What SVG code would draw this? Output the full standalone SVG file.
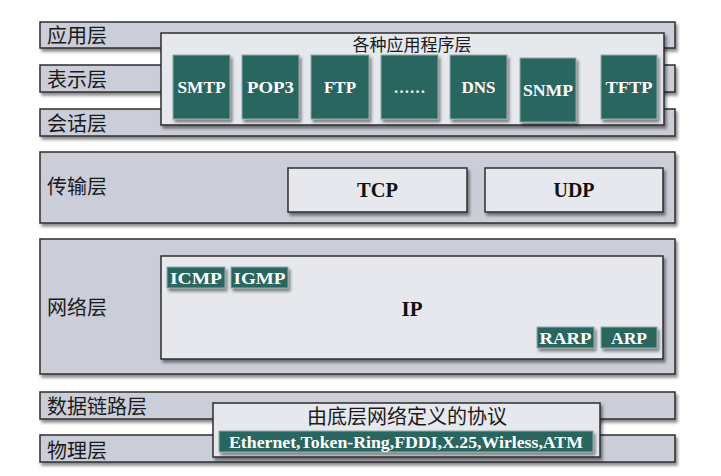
<svg xmlns="http://www.w3.org/2000/svg" width="721" height="476" viewBox="0 0 721 476">
<defs>
<filter id="sh" x="-10%" y="-10%" width="130%" height="140%">
<feDropShadow dx="2" dy="3" stdDeviation="1.5" flood-color="#000" flood-opacity="0.45"/>
</filter>
<style>
.bar{fill:#cbcdd8;stroke:#2e2e2e;stroke-width:1.5;filter:url(#sh)}
.inner{fill:#e6e8ee;stroke:#2e2e2e;stroke-width:1.5;filter:url(#sh)}
.g{fill:#2a6660;stroke:#8fa9a6;stroke-width:1;filter:url(#sh)}
.lbl{font-family:"Noto Sans CJK SC","Noto Sans",sans-serif;font-size:20px;fill:#1a1a1a}
.ttl{font-family:"Noto Sans CJK SC","Noto Sans",sans-serif;fill:#1a1a1a;text-anchor:middle}
.gt{font-family:"Liberation Serif",serif;font-weight:bold;fill:#ffffff;text-anchor:middle}
.bt{font-family:"Liberation Serif",serif;font-weight:bold;fill:#111;text-anchor:middle}
</style>
</defs>
<rect width="721" height="476" fill="#ffffff"/>

<g id="layer-app"><rect class="bar" x="40" y="22" width="635" height="26"/><text class="lbl" x="47" y="43">应用层</text></g>
<g id="layer-pres"><rect class="bar" x="40" y="65" width="635" height="27"/><text class="lbl" x="47" y="87">表示层</text></g>
<g id="layer-sess"><rect class="bar" x="40" y="109" width="635" height="27"/><text class="lbl" x="47" y="131">会话层</text></g>

<g id="app-box"><rect class="inner" x="161" y="33" width="503" height="92"/><text class="ttl" x="412" y="51" font-size="17">各种应用程序层</text></g>
<g id="smtp"><rect class="g" x="173" y="55" width="57" height="64"/><text class="gt" x="201.5" y="93" font-size="17" textLength="48" lengthAdjust="spacingAndGlyphs">SMTP</text></g>
<g id="pop3"><rect class="g" x="242" y="55" width="57" height="64"/><text class="gt" x="270.5" y="93" font-size="17" textLength="47" lengthAdjust="spacingAndGlyphs">POP3</text></g>
<g id="ftp"><rect class="g" x="311" y="55" width="58" height="64"/><text class="gt" x="340" y="93" font-size="17">FTP</text></g>
<g id="etc"><rect class="g" x="381" y="55" width="57" height="64"/><text class="gt" x="409.5" y="93" font-size="16">……</text></g>
<g id="dns"><rect class="g" x="450" y="55" width="57" height="64"/><text class="gt" x="478.5" y="93" font-size="17">DNS</text></g>
<g id="snmp"><rect class="g" x="520" y="58" width="56" height="64"/><text class="gt" x="548" y="96" font-size="17" textLength="50" lengthAdjust="spacingAndGlyphs">SNMP</text></g>
<g id="tftp"><rect class="g" x="601" y="55" width="56" height="64"/><text class="gt" x="629" y="93" font-size="17" textLength="47" lengthAdjust="spacingAndGlyphs">TFTP</text></g>

<g id="layer-trans"><rect class="bar" x="40" y="152" width="635" height="71"/><text class="lbl" x="47" y="194">传输层</text></g>
<g id="tcp"><rect class="inner" x="288" y="168" width="179" height="44"/><text class="bt" x="377.5" y="197" font-size="21" textLength="41" lengthAdjust="spacingAndGlyphs">TCP</text></g>
<g id="udp"><rect class="inner" x="485" y="168" width="178" height="44"/><text class="bt" x="574" y="197" font-size="21" textLength="41" lengthAdjust="spacingAndGlyphs">UDP</text></g>

<g id="layer-net"><rect class="bar" x="40" y="239" width="635" height="135"/><text class="lbl" x="47" y="315">网络层</text></g>
<g id="ip"><rect class="inner" x="161" y="256" width="502" height="103"/><text class="bt" x="412" y="316" font-size="21">IP</text></g>
<g id="icmp"><rect class="g" x="167" y="267" width="58" height="21"/><text class="gt" x="196" y="284" font-size="17" textLength="52" lengthAdjust="spacingAndGlyphs">ICMP</text></g>
<g id="igmp"><rect class="g" x="231" y="267" width="57" height="21"/><text class="gt" x="259.5" y="284" font-size="17" textLength="52" lengthAdjust="spacingAndGlyphs">IGMP</text></g>
<g id="rarp"><rect class="g" x="537" y="327" width="57" height="21"/><text class="gt" x="565.5" y="344" font-size="17" textLength="52" lengthAdjust="spacingAndGlyphs">RARP</text></g>
<g id="arp"><rect class="g" x="601" y="327" width="56" height="21"/><text class="gt" x="629" y="344" font-size="17" textLength="36" lengthAdjust="spacingAndGlyphs">ARP</text></g>

<g id="layer-link"><rect class="bar" x="40" y="392" width="635" height="27"/><text class="lbl" x="47" y="414">数据链路层</text></g>
<g id="layer-phys"><rect class="bar" x="40" y="435" width="635" height="27"/><text class="lbl" x="47" y="458">物理层</text></g>

<g id="lower-box"><rect class="inner" x="213" y="403" width="387" height="54"/><text class="ttl" x="407" y="424" font-size="20">由底层网络定义的协议</text></g>
<g id="lower-protocols"><rect class="g" x="219" y="431" width="374" height="21"/><text class="gt" x="406" y="447.5" font-size="16" textLength="354" lengthAdjust="spacingAndGlyphs">Ethernet,Token-Ring,FDDI,X.25,Wirless,ATM</text></g>

<g id="connectors"/>
</svg>
